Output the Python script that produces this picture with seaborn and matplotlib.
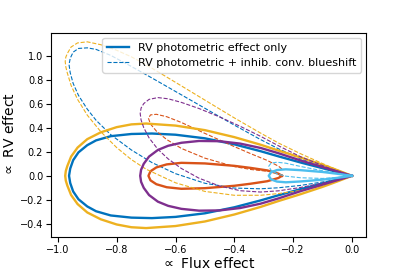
import matplotlib
matplotlib.use("Agg")
import matplotlib.pyplot as plt
import numpy as np
import pandas as pd
import seaborn as sns

# colours of the spot latitudes (matlab palette)
c_blue = "#0072BD"
c_red = "#D95319"
c_yel = "#EDB120"
c_pur = "#7E2F8E"
c_lbl = "#4DBEEE"

# flux effect from origin (or tip) to the leftmost point
flux_yel = [0, -0.05, -0.1, -0.175, -0.25, -0.311, -0.4, -0.5, -0.6, -0.7, -0.75, -0.8, -0.854, -0.9, -0.933, -0.955, -0.968, -0.973, -0.975]
rv_yel_top = [0, 0.047, 0.092, 0.153, 0.21, 0.259, 0.322, 0.38, 0.418, 0.435, 0.428, 0.405, 0.362, 0.305, 0.235, 0.16, 0.08, 0.04, 0]
rv_yel_bot = [0, -0.047, -0.092, -0.153, -0.21, -0.259, -0.322, -0.38, -0.418, -0.435, -0.428, -0.405, -0.362, -0.305, -0.235, -0.16, -0.08, -0.04, 0]
cb_yel_top = [0, 0.0495, 0.102, 0.184, 0.273, 0.356, 0.482, 0.63, 0.778, 0.925, 0.99, 1.045, 1.091, 1.115, 1.106, 1.072, 1.017, 0.987, 0.951]
cb_yel_bot = [0, -0.0445, -0.082, -0.122, -0.148, -0.162, -0.162, -0.13, -0.058, 0.055, 0.135, 0.235, 0.367, 0.505, 0.636, 0.752, 0.857, 0.907, 0.951]

flux_blue = [0, -0.074, -0.175, -0.25, -0.311, -0.4, -0.5, -0.6, -0.68, -0.75, -0.82, -0.87, -0.9, -0.93, -0.948, -0.958, -0.962]
rv_blue_top = [0, 0.047, 0.111, 0.162, 0.205, 0.262, 0.312, 0.342, 0.352, 0.348, 0.33, 0.295, 0.255, 0.195, 0.13, 0.06, 0]
rv_blue_bot = [0, -0.047, -0.111, -0.162, -0.205, -0.262, -0.312, -0.342, -0.352, -0.348, -0.33, -0.295, -0.255, -0.195, -0.13, -0.06, 0]
cb_blue_top = [0, 0.0525, 0.142, 0.225, 0.302, 0.422, 0.562, 0.702, 0.814, 0.91, 1.002, 1.052, 1.065, 1.06, 1.029, 0.978, 0.925]
cb_blue_bot = [0, -0.0415, -0.08, -0.0995, -0.108, -0.102, -0.062, 0.018, 0.11, 0.215, 0.342, 0.462, 0.555, 0.67, 0.769, 0.858, 0.925]

flux_pur = [0, -0.074, -0.175, -0.25, -0.311, -0.38, -0.45, -0.52, -0.58, -0.625, -0.66, -0.69, -0.708, -0.717, -0.72]
rv_pur_top = [0, 0.054, 0.128, 0.188, 0.232, 0.268, 0.288, 0.29, 0.275, 0.25, 0.215, 0.16, 0.1, 0.05, 0]
rv_pur_bot = [0, -0.054, -0.128, -0.188, -0.232, -0.268, -0.288, -0.29, -0.275, -0.25, -0.215, -0.16, -0.1, -0.05, 0]
cb_pur_top = [0, 0.0595, 0.159, 0.25, 0.329, 0.412, 0.49, 0.56, 0.611, 0.641, 0.651, 0.636, 0.601, 0.564, 0.518]
cb_pur_bot = [0, -0.0485, -0.097, -0.125, -0.135, -0.124, -0.085, -0.02, 0.061, 0.141, 0.221, 0.316, 0.401, 0.464, 0.518]

flux_red = [-0.238, -0.25, -0.288, -0.345, -0.4, -0.5, -0.58, -0.63, -0.665, -0.685, -0.692]
rv_red_top = [0, 0.018, 0.045, 0.066, 0.083, 0.103, 0.108, 0.095, 0.07, 0.038, 0]
rv_red_bot = [0, -0.018, -0.045, -0.066, -0.083, -0.103, -0.108, -0.095, -0.07, -0.038, 0]
cb_red_top = [0.0566, 0.0805, 0.128, 0.185, 0.243, 0.353, 0.444, 0.492, 0.512, 0.507, 0.479]
cb_red_bot = [0.0566, 0.0445, 0.038, 0.053, 0.077, 0.147, 0.228, 0.302, 0.372, 0.431, 0.479]

flux_lbl = [0, -0.05, -0.1, -0.175, -0.225, -0.255, -0.275, -0.283]
rv_lbl_top = [0, 0.017, 0.032, 0.047, 0.054, 0.048, 0.03, 0]
rv_lbl_bot = [0, -0.017, -0.032, -0.047, -0.054, -0.048, -0.03, 0]
cb_lbl_top = [0, 0.0195, 0.042, 0.078, 0.105, 0.113, 0.106, 0.08]
cb_lbl_bot = [0, -0.0145, -0.022, -0.016, -0.003, 0.017, 0.046, 0.08]


def loop(flux, top, bot):
    # go out along the top branch and come back along the bottom one
    x = list(flux) + list(flux[::-1][1:])
    y = list(top) + list(bot[::-1][1:])
    return pd.DataFrame({"flux": x, "rv": y})


curves = [
    (c_blue, flux_blue, rv_blue_top, rv_blue_bot, cb_blue_top, cb_blue_bot),
    (c_red, flux_red, rv_red_top, rv_red_bot, cb_red_top, cb_red_bot),
    (c_yel, flux_yel, rv_yel_top, rv_yel_bot, cb_yel_top, cb_yel_bot),
    (c_pur, flux_pur, rv_pur_top, rv_pur_bot, cb_pur_top, cb_pur_bot),
    (c_lbl, flux_lbl, rv_lbl_top, rv_lbl_bot, cb_lbl_top, cb_lbl_bot),
]

fig, ax = plt.subplots(figsize=(4.07, 2.71), dpi=100)
fig.subplots_adjust(left=0.125, right=0.9, top=0.88, bottom=0.124)

for i, (col, flux, rt, rb, ct, cb) in enumerate(curves):
    lab1 = "RV photometric effect only" if i == 0 else None
    lab2 = "RV photometric + inhib. conv. blueshift" if i == 0 else None
    sns.lineplot(data=loop(flux, rt, rb), x="flux", y="rv", sort=False, estimator=None,
                 color=col, lw=1.7, label=lab1, ax=ax)
    sns.lineplot(data=loop(flux, ct, cb), x="flux", y="rv", sort=False, estimator=None,
                 color=col, lw=0.8, ls="--", label=lab2, ax=ax)

ax.set_xlabel(r"$\propto$ Flux effect", fontsize=10, labelpad=1)
ax.set_ylabel(r"$\propto$ RV effect", fontsize=10, labelpad=2)
ax.tick_params(labelsize=7, pad=2)
ax.set_xticks(np.arange(-1.0, 0.01, 0.2))
ax.set_yticks(np.arange(-0.4, 1.01, 0.2))
ax.legend(loc="upper right", fontsize=8)

fig.savefig("out.png", dpi=100)
